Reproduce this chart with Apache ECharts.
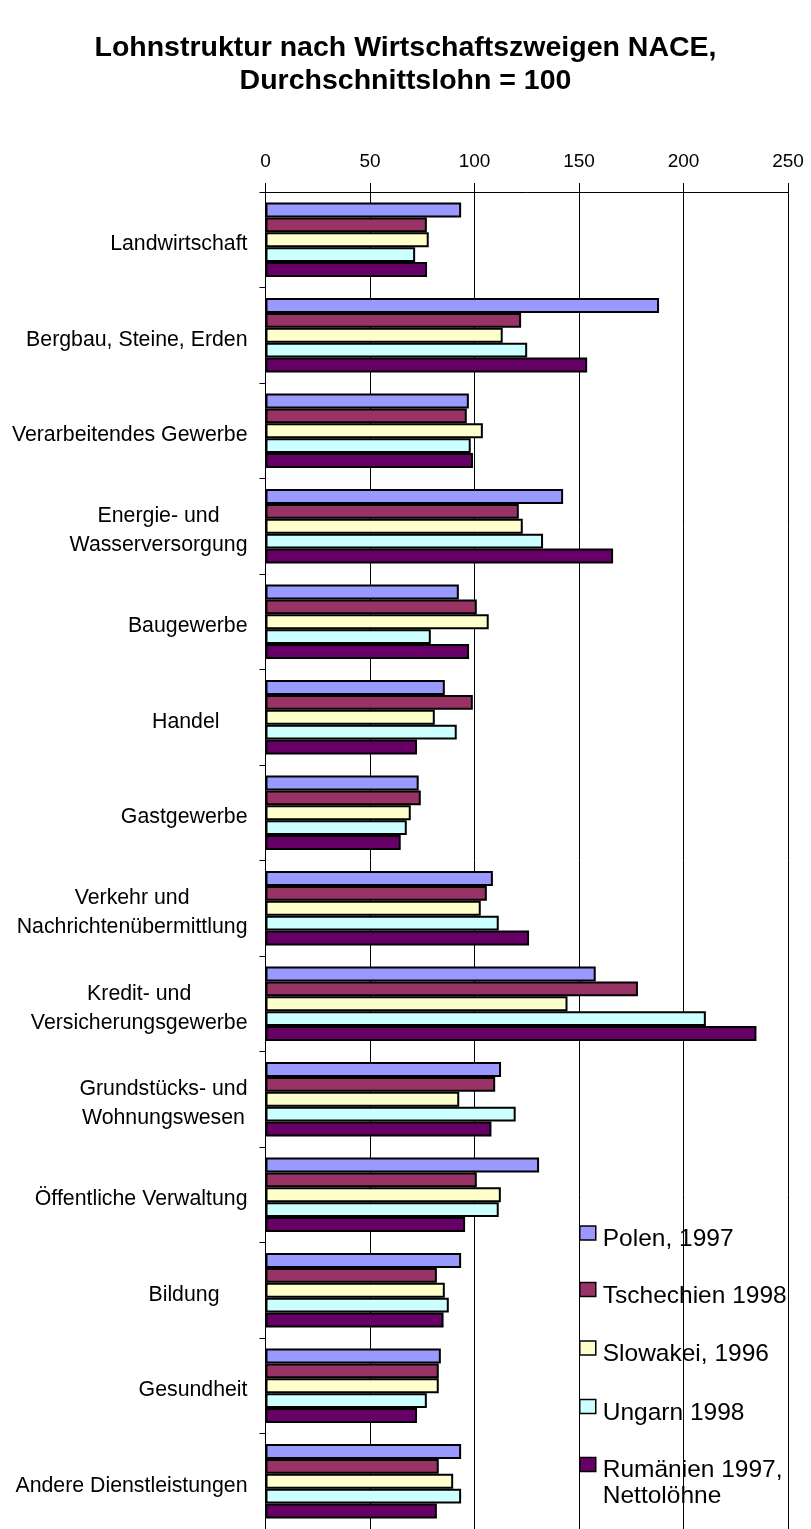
<!DOCTYPE html>
<html>
<head>
<meta charset="utf-8">
<script src="https://cdn.jsdelivr.net/npm/echarts@6/dist/echarts.min.js"></script>
<style>
html,body{margin:0;padding:0;background:#fff;}
#chart{width:811px;height:1529px;}
</style>
</head>
<body>
<div id="chart"></div>
<script>
const titleLines = ['Lohnstruktur nach Wirtschaftszweigen NACE,', 'Durchschnittslohn = 100'];
const categories = [
  'Landwirtschaft',
  'Bergbau, Steine, Erden',
  'Verarbeitendes Gewerbe',
  'Energie- und\nWasserversorgung',
  'Baugewerbe',
  'Handel',
  'Gastgewerbe',
  'Verkehr und\nNachrichtenübermittlung',
  'Kredit- und\nVersicherungsgewerbe',
  'Grundstücks- und\nWohnungswesen',
  'Öffentliche Verwaltung',
  'Bildung',
  'Gesundheit',
  'Andere Dienstleistungen'
];
const seriesNames = ['Polen, 1997', 'Tschechien 1998', 'Slowakei, 1996', 'Ungarn 1998', 'Rumänien 1997,\nNettolöhne'];
const polen      = [93.6, 188.3, 97.3, 142.4, 92.5, 85.8, 73.3, 108.8, 158.0, 112.7, 130.9, 93.6, 83.9, 93.6];
const tschechien = [77.2, 122.3, 96.3, 121.2, 101.1, 99.2, 74.3, 105.9, 178.2, 109.9, 101.1, 82.0, 82.9, 82.9];
const slowakei   = [78.1, 113.5, 104.0, 123.1, 106.8, 81.0, 69.5, 103.0, 144.5, 92.7, 112.6, 85.8, 82.9, 89.8];
const ungarn     = [71.6, 125.2, 98.2, 132.8, 79.1, 91.5, 67.6, 111.6, 210.7, 119.7, 111.6, 87.7, 77.2, 93.6];
const rumaenien  = [77.3, 153.9, 99.3, 166.3, 97.4, 72.5, 64.7, 126.1, 234.9, 108.1, 95.5, 85.2, 72.5, 82.0];
const xTicks = [0, 50, 100, 150, 200, 250];

const allValues = [polen, tschechien, slowakei, ungarn, rumaenien];
const colors = ['#9999FF', '#993366', '#FFFFCC', '#CCFFFF', '#660066'];
const FONT = '"Liberation Sans", Arial, Helvetica, sans-serif';
const padRight = { 'Handel': 28, 'Bildung': 27 };
// legend layout: top of each legend box
const legendTop = [1214, 1270.5, 1329, 1387.5, 1420];

const chart = echarts.init(document.getElementById('chart'), null, { renderer: 'canvas' });

const series = seriesNames.map((name, i) => ({
  name: name,
  type: 'bar',
  data: allValues[i],
  barGap: '0%',
  barCategoryGap: '22%',
  itemStyle: { color: colors[i], borderColor: '#000', borderWidth: 2 },
  emphasis: { disabled: true },
  animation: false
}));

const legendText = { fontFamily: FONT, fontSize: 24.5, color: '#000', lineHeight: 26 };
const legends = seriesNames.map((n, i) => ({
  orient: 'vertical',
  left: 579,
  top: legendTop[i],
  padding: 0,
  itemWidth: 16,
  itemHeight: 14,
  icon: 'rect',
  selectedMode: false,
  data: [n],
  itemStyle: { borderColor: '#000', borderWidth: 1.5 },
  formatter: function (name) {
    const ls = name.split('\n');
    return ls.map(l => '{' + (ls.length > 1 ? 'b' : 'a') + '|' + l + '}').join('\n');
  },
  textStyle: Object.assign({}, legendText, {
    rich: {
      a: Object.assign({}, legendText, { padding: [13, 0, 0, 2] }),
      b: Object.assign({}, legendText, { padding: [38, 0, 0, 2] })
    }
  })
}));

const catText = { fontFamily: FONT, fontSize: 21.3, color: '#000', lineHeight: 29, align: 'center' };

const option = {
  backgroundColor: '#fff',
  animation: false,
  textStyle: { fontFamily: FONT },
  title: {
    text: titleLines.join('\n'),
    left: 'center',
    top: 32,
    padding: 0,
    textStyle: { fontFamily: FONT, fontSize: 28.5, fontWeight: 'bold', color: '#000', lineHeight: 33 }
  },
  legend: legends,
  grid: { left: 265.5, top: 192, width: 522.5, height: 1341, containLabel: false },
  xAxis: {
    type: 'value',
    position: 'top',
    min: xTicks[0],
    max: xTicks[xTicks.length - 1],
    interval: xTicks[1] - xTicks[0],
    axisLine: { show: true, lineStyle: { color: '#000', width: 1 } },
    axisTick: { show: true, length: 9, lineStyle: { color: '#000', width: 1 } },
    axisLabel: { fontFamily: FONT, fontSize: 19, color: '#000', margin: 21 },
    splitLine: { show: true, lineStyle: { color: '#000', width: 1, type: 'solid' } }
  },
  yAxis: {
    type: 'category',
    inverse: true,
    data: categories,
    axisLine: { show: true, lineStyle: { color: '#000', width: 1 } },
    axisTick: { show: true, length: 6, lineStyle: { color: '#000', width: 1 } },
    splitLine: { show: false },
    axisLabel: {
      fontFamily: FONT,
      fontSize: 21.3,
      color: '#000',
      margin: 18,
      align: 'right',
      lineHeight: 29,
      formatter: function (v) {
        const p = padRight[v];
        return v.split('\n').map(l => '{' + (p ? 'p' : 'c') + '|' + l + '}').join('\n');
      },
      rich: {
        p: Object.assign({}, catText, { padding: [9, 28, 0, 0] }),
        c: Object.assign({}, catText, { padding: [9, 0, 0, 0] })
      }
    }
  },
  series: series
};
chart.setOption(option);
</script>
</body>
</html>
